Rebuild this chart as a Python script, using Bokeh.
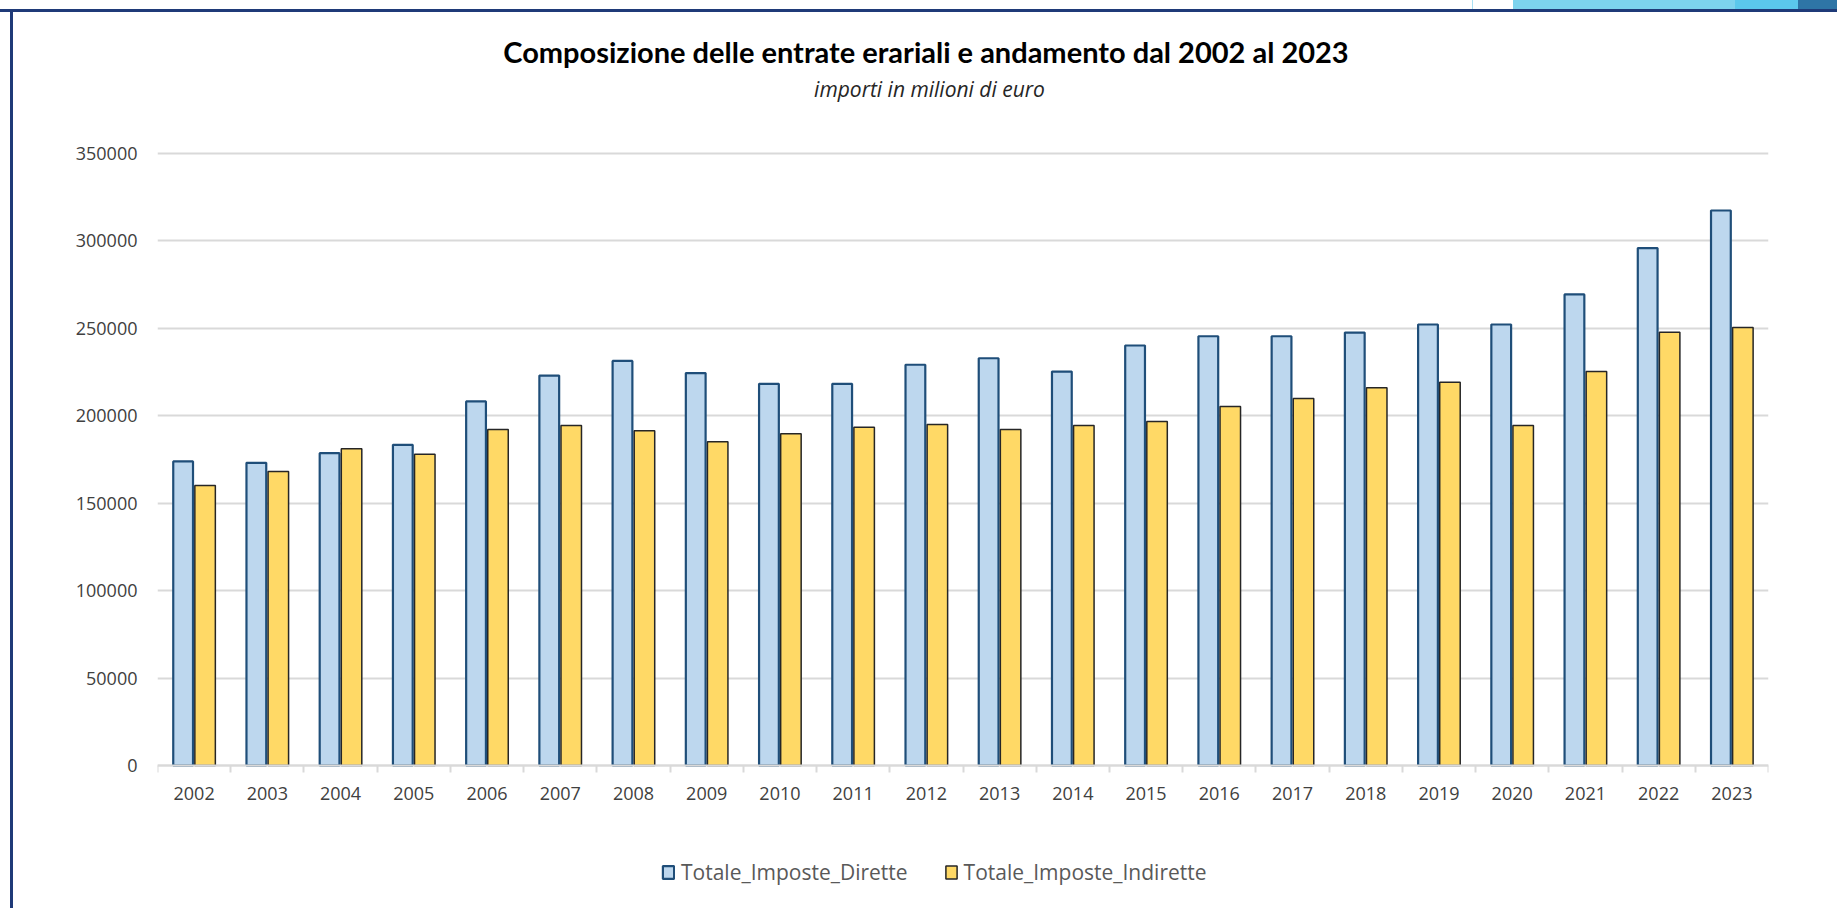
import numpy as np
from bokeh.plotting import figure
from bokeh.models import (Range1d, FixedTicker, Legend, LegendItem, Label,
                          NumeralTickFormatter, ColumnDataSource)
from bokeh.transform import dodge
from bokeh.embed import file_html
from bokeh.resources import INLINE

# ---- data (millions of euro) ----
years = [str(y) for y in range(2002, 2024)]
imposte_dirette = [173900, 173100, 178600, 183400, 208200, 223000, 231400, 224400,
                   218300, 218300, 229200, 232900, 225300, 240200, 245500, 245500,
                   247600, 252200, 252200, 269400, 295900, 317400]
imposte_indirette = [160100, 168100, 181100, 178000, 192200, 194400, 191400, 185100,
                     189700, 193500, 195000, 192200, 194400, 196700, 205300, 209900,
                     216000, 219200, 194400, 225300, 247800, 250500]
y_ticks = [0, 50000, 100000, 150000, 200000, 250000, 300000, 350000]

title_text = "Composizione  delle entrate erariali e andamento dal 2002 al 2023"
subtitle_text = "importi in milioni di euro"
series_names = ["Totale_Imposte_Dirette", "Totale_Imposte_Indirette"]

idx = list(range(len(years)))
src = ColumnDataSource(dict(x=idx, dir=imposte_dirette, ind=imposte_indirette))

# ---- layout: the plotting frame spans the full canvas height; the value axis
# 0..350000 occupies pixel rows 765..153, the rest holds titles and legend ----
W, H = 1837, 908
L, R = 157, 69
PY_ZERO, PY_TOP = 765, 153
units_per_px = (y_ticks[-1] - y_ticks[0]) / (PY_ZERO - PY_TOP)
y_hi = y_ticks[-1] + PY_TOP * units_per_px
y_lo = y_ticks[0] - (H - PY_ZERO) * units_per_px

p = figure(width=W, height=H, output_backend="svg", toolbar_location=None, title=None,
           x_range=Range1d(-0.5, len(years) - 0.5), y_range=Range1d(y_lo, y_hi),
           min_border_left=L, min_border_right=R, min_border_top=0, min_border_bottom=0,
           background_fill_alpha=0, border_fill_alpha=0)
p.outline_line_color = None

# slide decorations: navy frame lines and top-right band (CSS background of the host)
p.styles = {
    "background-color": "white",
    "background-image": ("linear-gradient(#1F3A78,#1F3A78), linear-gradient(#1F3A78,#1F3A78), "
                         "linear-gradient(#2E75A6,#2E75A6), linear-gradient(#5BC8EC,#5BC8EC), "
                         "linear-gradient(#7DD3EE,#7DD3EE), linear-gradient(#A9E0F4,#A9E0F4)"),
    "background-size": "100% 3px, 3px 100%, 39px 9px, 63px 9px, 222px 9px, 1px 9px",
    "background-position": "0px 9px, 10px 9px, 1798px 0px, 1735px 0px, 1513px 0px, 1472px 0px",
    "background-repeat": "no-repeat",
}

# grid
p.xgrid.grid_line_color = None
p.ygrid.grid_line_color = "#D9D9D9"
p.ygrid.grid_line_width = 2

LBL_FONT = "Open Sans"

# y axis
p.yaxis.ticker = FixedTicker(ticks=y_ticks)
p.yaxis.formatter = NumeralTickFormatter(format="0")
p.yaxis.axis_line_color = None
p.yaxis.major_tick_line_color = None
p.yaxis.minor_tick_line_color = None
p.yaxis.major_label_standoff = 14
p.yaxis.major_label_text_font = LBL_FONT
p.yaxis.major_label_text_font_size = "18px"
p.yaxis.major_label_text_color = "#404040"

# x axis, drawn at value 0
p.xaxis.fixed_location = 0
p.xaxis.ticker = FixedTicker(ticks=idx, minor_ticks=[i - 0.5 for i in range(len(years) + 1)])
p.xaxis.major_label_overrides = {i: y for i, y in zip(idx, years)}
p.xaxis.axis_line_color = "#D9D9D9"
p.xaxis.axis_line_width = 2
p.xaxis.major_tick_line_color = None
p.xaxis.major_tick_out = 6
p.xaxis.minor_tick_line_color = "#D9D9D9"
p.xaxis.minor_tick_line_width = 2
p.xaxis.minor_tick_out = 7
p.xaxis.minor_tick_in = 0
p.xaxis.major_label_standoff = 14
p.xaxis.major_label_text_font = LBL_FONT
p.xaxis.major_label_text_font_size = "18px"
p.xaxis.major_label_text_color = "#404040"

# bars
r1 = p.vbar(x=dodge("x", -0.15, range=p.x_range), top="dir", bottom=0, width=0.27, source=src,
            fill_color="#BDD7EE", line_color="#1F4E79", line_width=2.2)
r2 = p.vbar(x=dodge("x", 0.15, range=p.x_range), top="ind", bottom=0, width=0.28, source=src,
            fill_color="#FFD966", line_color="#262626", line_width=1.5)

# legend
legend = Legend(items=[LegendItem(label=series_names[0], renderers=[r1]),
                       LegendItem(label=series_names[1], renderers=[r2])],
                orientation="horizontal", location=(661 - L, 22),
                padding=0, margin=0, spacing=36, label_standoff=6,
                glyph_width=14, glyph_height=16,
                border_line_color=None, background_fill_alpha=0,
                label_text_font=LBL_FONT, label_text_font_size="21px",
                label_text_color="#595959")
p.add_layout(legend)

# titles
cx = 929 - L
p.add_layout(Label(x=cx, y=H - 51, x_units="screen", y_units="screen", text=title_text,
                   text_align="center", text_baseline="middle",
                   text_font="Lato", text_font_style="bold",
                   text_font_size="29px", text_color="black"))
p.add_layout(Label(x=cx, y=H - 88, x_units="screen", y_units="screen", text=subtitle_text,
                   text_align="center", text_baseline="middle",
                   text_font=LBL_FONT, text_font_style="italic",
                   text_font_size="21px", text_color="#262626"))

open("out.html", "w").write(file_html(p, INLINE))
